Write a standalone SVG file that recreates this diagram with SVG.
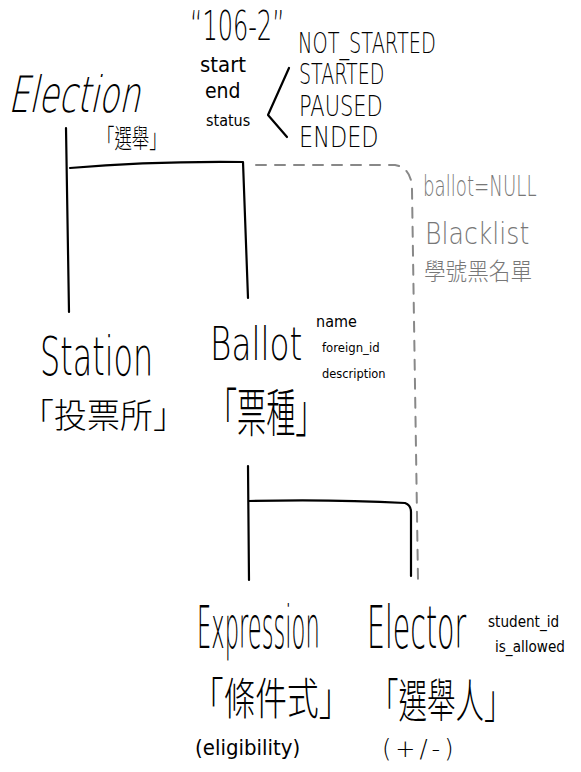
<svg xmlns="http://www.w3.org/2000/svg" width="581" height="772" viewBox="0 0 581 772">
<style>
text{font-family:"DejaVu Sans","Noto Sans CJK TC",sans-serif;font-weight:200;fill:#000}
.cjk{font-family:"Noto Sans CJK TC","Noto Sans CJK SC",sans-serif;font-weight:300}
.sm{font-weight:400}
.grey{fill:#777}
.ink{fill:none;stroke:#000;stroke-width:2.2;stroke-linecap:round;stroke-linejoin:round}
.dash{fill:none;stroke:#888;stroke-width:2;stroke-dasharray:10 9;stroke-linecap:round}
</style>
<rect width="581" height="772" fill="#fff"/>
<g id="connectors">
<path class="ink" d="M66 128 L69 312"/>
<path class="ink" d="M70 168 Q150 161 243 162 L248 298"/>
<path class="dash" d="M256 165 L395 165 Q412 168 412 190 L418 580"/>
<path class="ink" d="M248 466 L249 580"/>
<path class="ink" d="M249 501 Q330 499 405 503 Q411 505 411 512 L411 576"/>
</g>
<g id="election">
<text transform="translate(8,112) skewX(-12) scale(0.66,1)" font-size="50">Election</text>
<text class="cjk" transform="translate(97,148) scale(0.67,1)" font-size="26">「選舉」</text>
</g>
<g id="election-attrs">
<text transform="translate(190,40) scale(0.6,1)" font-size="40">“106-2”</text>
<text class="sm" transform="translate(200,72) scale(0.9,1)" font-size="22">start</text>
<text class="sm" transform="translate(205,98) scale(0.9,1)" font-size="21">end</text>
<text class="sm" transform="translate(206,126) scale(0.9,1)" font-size="16">status</text>
<path class="ink" d="M289 68 L268 115 L287 137" stroke-width="1.8"/>
<text transform="translate(298,53) scale(0.69,1)" font-size="28">NOT_STARTED</text>
<text transform="translate(299,84) scale(0.68,1)" font-size="28">STARTED</text>
<text transform="translate(299,116) scale(0.75,1)" font-size="28">PAUSED</text>
<text transform="translate(299,147) scale(0.8,1)" font-size="28">ENDED</text>
</g>
<g id="blacklist-note">
<text class="grey" transform="translate(423,196) scale(0.65,1)" font-size="28">ballot=NULL</text>
<text class="grey" transform="translate(425,244) scale(0.84,1)" font-size="30">Blacklist</text>
<text class="cjk grey" transform="translate(424,280) scale(0.9,1)" font-size="24">學號黑名單</text>
</g>
<g id="station">
<text transform="translate(40,375) scale(0.59,1)" font-size="54">Station</text>
<text class="cjk" transform="translate(21,428) scale(0.97,1)" font-size="34">「投票所」</text>
</g>
<g id="ballot">
<text transform="translate(210,360) scale(0.71,1)" font-size="46">Ballot</text>
<text class="sm" transform="translate(316,327) scale(0.9,1)" font-size="16">name</text>
<text class="sm" transform="translate(322,352) scale(0.9,1)" font-size="13">foreign_id</text>
<text class="sm" transform="translate(322,378) scale(0.88,1)" font-size="13">description</text>
<text class="cjk" transform="translate(208,432) scale(0.56,1)" font-size="52">「票種」</text>
</g>
<g id="expression">
<text transform="translate(197,648) scale(0.39,1)" font-size="58">Expression</text>
<text class="cjk" transform="translate(192,715) scale(0.72,1)" font-size="44">「條件式」</text>
<text class="sm" transform="translate(195,755) scale(0.9,1)" font-size="22">(eligibility)</text>
</g>
<g id="elector">
<text transform="translate(367,648) scale(0.49,1)" font-size="58">Elector</text>
<text class="sm" transform="translate(488,627) scale(0.85,1)" font-size="16">student_id</text>
<text class="sm" transform="translate(495,652) scale(0.85,1)" font-size="16">is_allowed</text>
<text class="cjk" transform="translate(370,717) scale(0.62,1)" font-size="46">「選舉人」</text>
<text x="382" y="757" font-size="24" letter-spacing="4">(+/-)</text>
</g>
</svg>
